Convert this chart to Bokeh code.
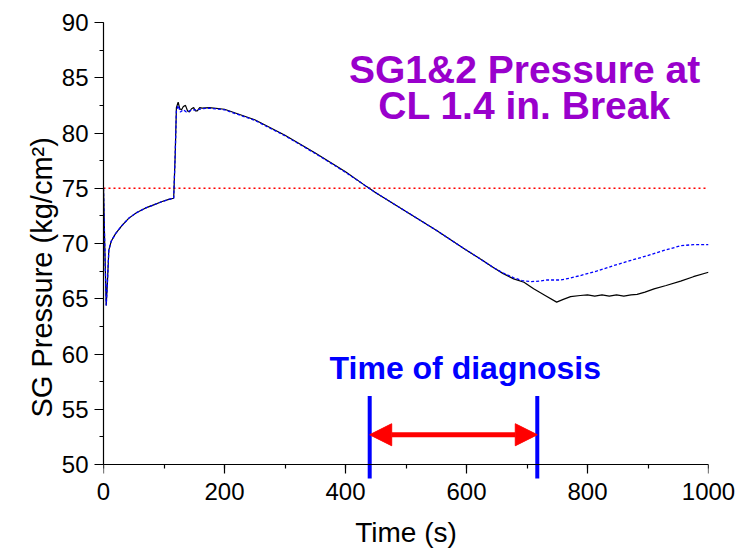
from bokeh.plotting import figure
from bokeh.models import (Range1d, SingleIntervalTicker, Label, Arrow, NormalHead,
                          LinearAxis, CustomJSTickFormatter, Title)
from bokeh.embed import file_html
from bokeh.resources import INLINE

# ---- data ----
t_sg1 = [0, 2, 4.5, 6.5, 8.8, 12.7, 20, 30, 42, 55, 69, 83, 97, 108, 116, 118.5,
         120.5, 123.4, 126, 129, 132, 135.5, 139, 142, 145.5, 149, 152, 155, 159, 163,
         175, 200, 250, 300, 350, 400, 435, 450, 500, 550, 600, 623, 645, 660, 678,
         695, 711, 730, 749, 760, 772, 788, 800, 812, 824, 836, 848, 860, 872, 882,
         895, 910, 930, 954, 975, 1000]
p_sg1 = [75.0, 70.0, 64.4, 66.5, 69.4, 70.2, 70.9, 71.6, 72.3, 72.8, 73.2, 73.5, 73.8, 74.0, 74.1, 78.0,
         82.3, 82.8, 82.2, 82.1, 82.4, 82.5, 82.0, 81.9, 82.2, 82.3, 82.0, 82.0, 82.3, 82.25,
         82.3, 82.15, 81.2, 79.8, 78.2, 76.5, 75.15, 74.6, 72.9, 71.2, 69.4, 68.6, 67.8, 67.3, 66.8,
         66.5, 65.9, 65.3, 64.7, 64.95, 65.2, 65.3, 65.35, 65.25, 65.35, 65.25, 65.35, 65.25, 65.35, 65.4,
         65.6, 65.9, 66.2, 66.6, 67.0, 67.4]

t_sg2 = [0, 2, 4.5, 6.5, 8.8, 12.7, 20, 30, 42, 55, 69, 83, 97, 108, 116, 118.5,
         120.5, 123.4, 127, 132, 137, 142, 148, 155, 163, 175, 200, 250, 300, 350, 400,
         435, 450, 500, 550, 600, 623, 645, 660, 678, 692, 706, 720, 733, 755, 770, 788,
         815, 843, 870, 899, 925, 954, 975, 1000]
p_sg2 = [75.0, 70.0, 64.4, 66.5, 69.4, 70.2, 70.9, 71.6, 72.3, 72.8, 73.2, 73.5, 73.8, 74.0, 74.1, 78.0,
         82.0, 82.5, 81.9, 82.1, 81.9, 82.0, 82.1, 82.1, 82.2, 82.25, 82.1, 81.15, 79.75, 78.15, 76.45,
         75.15, 74.6, 72.9, 71.2, 69.4, 68.6, 67.8, 67.35, 66.9, 66.65, 66.55, 66.6, 66.7, 66.7, 66.85, 67.1,
         67.5, 68.0, 68.45, 68.9, 69.35, 69.8, 69.9, 69.9]

setpoint_t = [0, 1000]
setpoint_p = [75.0, 75.0]

diag_start = 440
diag_end = 717
diag_marker_p = [48.7, 56.2]
arrow_p = 52.7

title_lines = ["SG1&2 Pressure at", "CL 1.4 in. Break"]
diag_text = "Time of diagnosis"
x_title = "Time (s)"
y_title = "SG Pressure (kg/cm\u00b2)"

FONT = "Liberation Sans"

p = figure(width=735, height=552, x_range=Range1d(0, 1000), y_range=Range1d(48.74, 90),
           output_backend="svg", toolbar_location=None,
           min_border_left=103, min_border_right=27, min_border_top=22, min_border_bottom=74)
p.grid.visible = False
p.outline_line_color = None
p.background_fill_color = "white"
p.border_fill_color = "white"

# curves
p.line(setpoint_t, setpoint_p, line_color="#FF0000", line_width=1.5, line_dash="2 3")
p.line(t_sg1, p_sg1, line_color="black", line_width=1.2)
p.line(t_sg2, p_sg2, line_color="#0000FF", line_width=1.3, line_dash="3 2")

# diagnosis markers
p.line([diag_start, diag_start], diag_marker_p, line_color="#0000FF", line_width=4)
p.line([diag_end, diag_end], diag_marker_p, line_color="#0000FF", line_width=4)
p.add_layout(Arrow(x_start=diag_start, y_start=arrow_p, x_end=diag_end, y_end=arrow_p,
                   line_color="#FF0000", line_width=5,
                   start=NormalHead(size=22, fill_color="#FF0000", line_color="#FF0000"),
                   end=NormalHead(size=22, fill_color="#FF0000", line_color="#FF0000")))

# texts
p.add_layout(Label(x=696, y=85.75, text=title_lines[0], text_align="center",
                   text_baseline="alphabetic", text_font=FONT, text_font_style="bold",
                   text_font_size="39px", text_color="#9900CC"))
p.add_layout(Label(x=696, y=82.5, text=title_lines[1], text_align="center",
                   text_baseline="alphabetic", text_font=FONT, text_font_style="bold",
                   text_font_size="39px", text_color="#9900CC"))
p.add_layout(Label(x=598, y=58.75, text=diag_text, text_align="center",
                   text_baseline="alphabetic", text_font=FONT, text_font_style="bold",
                   text_font_size="32px", text_color="#0000FF"))

blank = CustomJSTickFormatter(code="return ''")

# x axis line + ticks fixed at 50
xa = p.xaxis[0]
xa.fixed_location = 50
xa.ticker = SingleIntervalTicker(interval=200, num_minor_ticks=2)
xa.formatter = blank
# x tick labels + title on a second axis below the frame
xl = LinearAxis(ticker=SingleIntervalTicker(interval=200, num_minor_ticks=2),
                axis_line_color=None, major_tick_line_color=None, minor_tick_line_color=None,
                major_tick_in=0, major_tick_out=0, minor_tick_in=0, minor_tick_out=0,
                major_label_standoff=4, axis_label=x_title, axis_label_standoff=14,
                major_label_text_line_height=1.0, axis_label_text_line_height=1.0)
p.add_layout(xl, "below")

ya = p.yaxis[0]
ya.ticker = SingleIntervalTicker(interval=5, num_minor_ticks=2)
ya.bounds = (50, 90)
ya.major_label_standoff = 6

# y title as a side title placed where the reference has it
p.add_layout(Title(text=y_title, align="left", offset=61, standoff=2,
                   text_font=FONT, text_font_size="29px", text_font_style="normal",
                   text_color="black"), "left")

for ax in (xa, ya):
    ax.axis_line_color = "black"
    ax.axis_line_width = 1.2
    ax.major_tick_line_color = "black"
    ax.minor_tick_line_color = "black"
    ax.major_tick_line_width = 1.2
    ax.minor_tick_line_width = 1.2
    ax.major_tick_in = 0
    ax.major_tick_out = 9
    ax.minor_tick_in = 0
    ax.minor_tick_out = 4
for ax in (xa, ya, xl):
    ax.major_label_text_font = FONT
    ax.major_label_text_font_size = "24px"
    ax.major_label_text_color = "black"
    ax.axis_label_text_font = FONT
    ax.axis_label_text_font_size = "28px"
    ax.axis_label_text_font_style = "normal"
    ax.axis_label_text_color = "black"

open("out.html", "w").write(file_html(p, INLINE))
